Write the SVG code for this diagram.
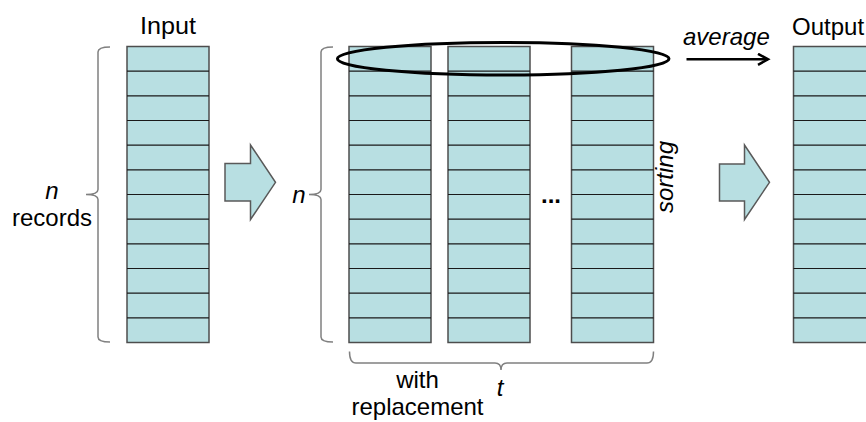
<svg xmlns="http://www.w3.org/2000/svg" xmlns:xlink="http://www.w3.org/1999/xlink" width="866" height="422" viewBox="0 0 866 422">
  <style>
    .cell { fill: #b8dfe2; stroke: #4d4d4d; stroke-width: 1.5; }
    .row { stroke: #1a1a1a; stroke-width: 1.2; }
    .brace { fill: none; stroke: #808080; stroke-width: 1.5; }
    .block { fill: #b8dfe2; stroke: #595959; stroke-width: 1.5; stroke-linejoin: miter; }
    .lbl { font-family: "Liberation Sans", Arial, sans-serif; font-size: 24px; fill: #000; }
    .it { font-style: italic; }
  </style>
  <defs>
    <!-- one column of 12 records, 82 wide -->
    <g id="column">
      <rect class="cell" x="0" y="0" width="82" height="296"/>
      <path class="row" d="M0,24.67H82M0,49.33H82M0,74H82M0,98.67H82M0,123.33H82M0,148H82M0,172.67H82M0,197.33H82M0,222H82M0,246.67H82M0,271.33H82"/>
    </g>
    <marker id="open-head" markerWidth="14" markerHeight="14" refX="11" refY="6" orient="auto" markerUnits="userSpaceOnUse">
      <path d="M1,0.5 L11,6 L1,11.5" fill="none" stroke="#000" stroke-width="2.5"/>
    </marker>
  </defs>

  <rect width="866" height="422" fill="#fff"/>

  <!-- input table -->
  <g id="input">
    <use xlink:href="#column" x="127" y="46.5"/>
    <text class="lbl" x="168" y="34" text-anchor="middle" textLength="56" lengthAdjust="spacingAndGlyphs">Input</text>
  </g>

  <g id="input-brace">
    <path class="brace" d="M110,47 Q98,47 98,52 V189.5 Q98,194.5 86,194.5 Q98,194.5 98,199.5 V337 Q98,342 110,342"/>
    <text class="lbl it" x="52" y="199" text-anchor="middle">n</text>
    <text class="lbl" x="52" y="226" text-anchor="middle">records</text>
  </g>

  <!-- block arrow input -> samples -->
  <g id="arrow-sample">
    <path class="block" d="M225,163.5 H250.5 V145 L275.5,182.3 L250.5,219.5 V201 H225 Z"/>
  </g>

  <!-- bootstrap samples -->
  <g id="sample-1"><use xlink:href="#column" x="349" y="46.5"/></g>
  <g id="sample-2"><use xlink:href="#column" x="448" y="46.5"/></g>
  <g id="sample-t">
    <use xlink:href="#column" x="571.5" y="46.5"/>
    <text class="lbl" x="551" y="203" text-anchor="middle" font-weight="bold">...</text>
    <text class="lbl it" transform="translate(673,177) rotate(-90)" text-anchor="middle">sorting</text>
  </g>

  <g id="sample-brace">
    <path class="brace" d="M333,47 Q321,47 321,52 V189.5 Q321,194.5 309,194.5 Q321,194.5 321,199.5 V337 Q321,342 333,342"/>
    <text class="lbl it" x="299" y="203" text-anchor="middle">n</text>
  </g>

  <g id="t-brace">
    <path class="brace" d="M349.5,351.5 Q349.5,363 356,363 H495 Q501,363 501,370 Q501,363 507,363 H647 Q653.5,363 653.5,351.5"/>
    <text class="lbl" x="417.5" y="388" text-anchor="middle">with</text>
    <text class="lbl" x="417.5" y="415" text-anchor="middle">replacement</text>
    <text class="lbl it" x="500" y="396" text-anchor="middle">t</text>
  </g>

  <!-- first-row selection across samples -->
  <g id="first-row">
    <ellipse cx="503.2" cy="58.7" rx="165.8" ry="16.3" fill="none" stroke="#000" stroke-width="3"/>
  </g>

  <!-- block arrow samples -> output -->
  <g id="arrow-output">
    <path class="block" d="M719.5,164 H744.5 V145 L769.5,182.3 L744.5,219.5 V201 H719.5 Z"/>
  </g>

  <!-- output table -->
  <g id="output">
    <use xlink:href="#column" x="793.5" y="46.5"/>
    <text class="lbl" x="792" y="35">Output</text>
  </g>

  <g id="connectors">
    <line x1="686.5" y1="59.3" x2="768" y2="59.3" stroke="#000" stroke-width="2.5" marker-end="url(#open-head)"/>
    <text class="lbl it" x="683" y="45">average</text>
  </g>
</svg>
